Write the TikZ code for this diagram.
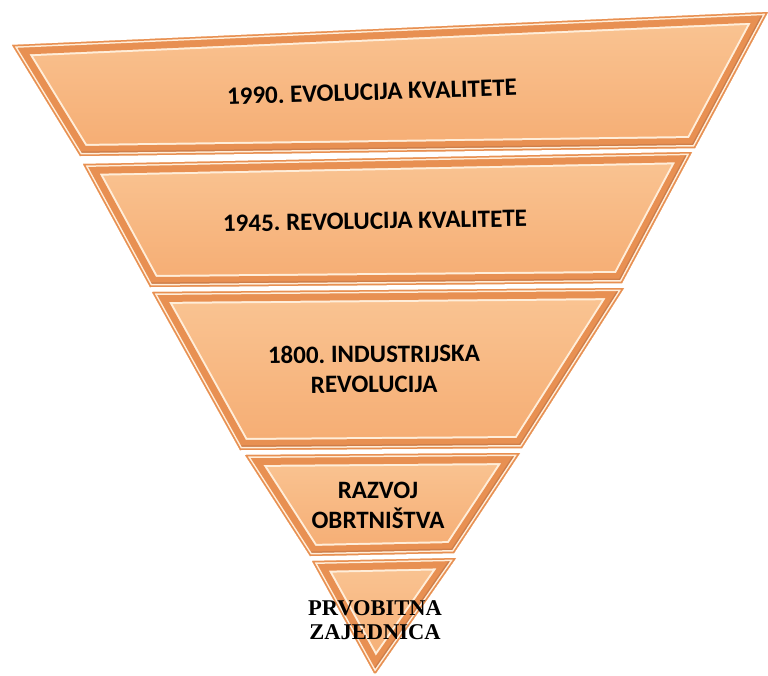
\documentclass[tikz,border=0pt]{standalone}
\usepackage{fontspec}
\setmainfont{Carlito}
\newfontfamily\timesfont{Liberation Serif}
\frenchspacing
\definecolor{facetop}{RGB}{250,197,148}
\definecolor{facebot}{RGB}{245,172,114}
\definecolor{bevel}{RGB}{232,144,82}
\definecolor{hilite}{RGB}{255,238,218}
\definecolor{shadowc}{RGB}{160,95,60}
\newcommand\bevlayer[4]{%
  \begin{scope}
    \clip #1--#2--#3--#4--cycle;
    \shade[top color=facetop,bottom color=facebot] #1--#2--#3--#4--cycle;
    \draw[line width=24pt,hilite] #1--#2--#3--#4--cycle;
    \draw[line width=20pt,bevel] #1--#2--#3--#4--cycle;
    \draw[line width=9pt,shadowc,opacity=.35] #2--#3--#4;
    \draw[line width=6pt,hilite] #1--#2--#3--#4--cycle;
    \draw[line width=3pt,bevel] #1--#2--#3--#4--cycle;
  \end{scope}}
\begin{document}
\begin{tikzpicture}[x=1pt,y=-1pt,line join=miter,
  lbl/.style={font=\bfseries\fontsize{25}{30}\selectfont,align=center,text=black,inner sep=0pt},
  lblserif/.style={font=\timesfont\bfseries\fontsize{22.5}{24}\selectfont,align=center,text=black,inner sep=0pt}]
\useasboundingbox (0,0) rectangle (768,675);
% layers
\bevlayer{(12,45)}{(768,12)}{(695,148)}{(80,156)}
\bevlayer{(83,164)}{(692,152)}{(622,283)}{(150,287)}
\bevlayer{(152,292)}{(624,288)}{(522,448)}{(240,450)}
\bevlayer{(245,455)}{(520,453)}{(454,553)}{(310,556)}
\bevlayer{(312,561)}{(456,558)}{(376,673)}{(374,673)}
% labels
\node[lbl,rotate=1.8] (t1) at (372,92) {1990. EVOLUCIJA KVALITETE};
\node[lbl,rotate=1] (t2) at (375,221) {1945. REVOLUCIJA KVALITETE};
\node[lbl,rotate=0.5] (t3) at (374,369) {1800. INDUSTRIJSKA\\REVOLUCIJA};
\node[lbl] (t4) at (378,505) {RAZVOJ\\OBRTNIŠTVA};
\node[lblserif] (t5) at (375,620) {PRVOBITNA\\ZAJEDNICA};
\end{tikzpicture}
\end{document}
